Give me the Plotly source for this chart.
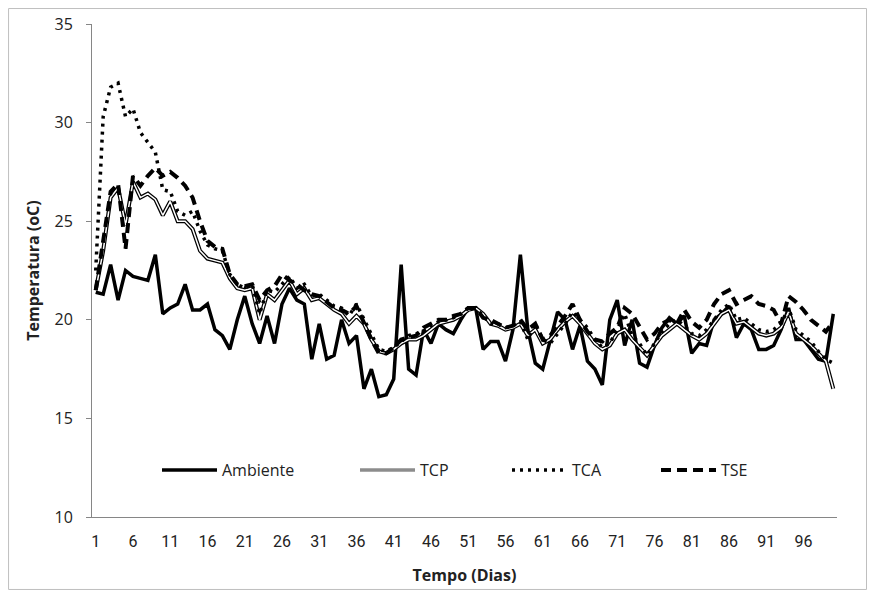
import plotly.graph_objects as go

days = list(range(1, 101))

ambiente = [21.4, 21.3, 22.8, 21.0, 22.5, 22.2, 22.1, 22.0, 23.3, 20.3,
            20.6, 20.8, 21.8, 20.5, 20.5, 20.8, 19.5, 19.2, 18.5, 20.0,
            21.2, 19.8, 18.8, 20.2, 18.8, 20.8, 21.6, 21.0, 20.8, 18.0,
            19.8, 18.0, 18.2, 20.0, 18.8, 19.2, 16.5, 17.5, 16.1, 16.2,
            17.0, 22.8, 17.5, 17.2, 19.5, 18.8, 19.8, 19.5, 19.3, 20.0,
            20.6, 20.6, 18.5, 18.9, 18.9, 17.9, 19.5, 23.3, 19.5, 17.8,
            17.5, 19.0, 20.4, 20.0, 18.5, 19.7, 17.9, 17.5, 16.7, 20.0,
            21.0, 18.7, 20.0, 17.8, 17.6, 18.7, 19.6, 20.1, 19.8, 20.2,
            18.3, 18.8, 18.7, 20.0, 20.3, 20.7, 19.1, 19.8, 19.5, 18.5,
            18.5, 18.7, 19.5, 20.6, 19.0, 19.0, 18.5, 18.0, 17.9, 20.3]

tcp = [21.5, 23.5, 26.2, 26.7, 24.8, 27.0, 26.2, 26.4, 26.1, 25.3,
       26.0, 25.0, 25.0, 24.6, 23.5, 23.1, 23.0, 22.9, 22.1, 21.6,
       21.5, 21.6, 20.0, 21.3, 21.0, 21.5, 22.0, 21.3, 21.6, 21.0,
       21.1, 20.8, 20.5, 20.3, 19.8, 20.2, 19.8, 19.0, 18.4, 18.3,
       18.5, 18.8, 19.0, 19.0, 19.2, 19.5, 19.8, 19.9, 20.0, 20.2,
       20.5, 20.6, 20.3, 19.8, 19.7, 19.5, 19.6, 19.8, 19.2, 19.5,
       18.8, 19.0, 19.5, 19.9, 20.2, 19.8, 19.3, 18.8, 18.5, 18.7,
       19.3, 19.5, 19.0, 18.6, 18.2, 18.7, 19.2, 19.5, 19.8, 19.5,
       19.2, 19.0, 19.3, 19.8, 20.3, 20.5, 19.8, 19.9, 19.6, 19.3,
       19.2, 19.3, 19.6, 20.4, 19.3, 19.0, 18.7, 18.3, 17.9, 16.5]

tca = [22.5, 30.3, 31.8, 32.0, 30.3, 30.7, 29.5, 29.0, 28.5, 26.6,
       26.5, 25.5, 25.3, 25.5, 24.5, 23.8, 23.6, 23.5, 22.3, 21.8,
       21.6, 21.8, 20.3, 21.5, 21.4, 21.8, 22.2, 21.6, 21.8, 21.2,
       21.3, 21.0, 20.7, 20.6, 20.2, 20.8, 20.0, 19.2, 18.5, 18.4,
       18.6, 18.9, 19.2, 19.3, 19.4, 19.7, 19.9, 20.0, 20.1, 20.3,
       20.6, 20.6, 20.2, 19.8, 19.8, 19.6, 19.7, 19.9, 19.0, 19.8,
       19.0, 18.8, 19.3, 19.8, 20.4, 20.0, 19.6, 19.0, 18.6, 18.8,
       19.5, 20.3, 19.2, 18.8, 18.2, 18.8, 19.4, 19.8, 20.0, 19.7,
       19.3, 19.2, 19.5, 20.0, 20.5, 20.8, 20.0, 20.1, 19.8, 19.5,
       19.4, 19.5, 19.8, 20.6, 19.5, 19.2, 18.9, 18.4, 18.0, 17.8]

tse = [21.5, 24.0, 26.5, 26.9, 23.6, 27.3, 26.8, 27.3, 27.7, 27.3,
       27.5, 27.2, 26.8, 26.2, 25.0, 24.0, 23.7, 23.6, 22.3, 21.8,
       21.7, 21.8, 21.0, 21.5, 21.7, 22.3, 22.0, 21.8, 21.5, 21.3,
       21.2, 20.9, 20.6, 20.5, 20.3, 20.7, 19.8, 19.0, 18.3, 18.3,
       18.6, 19.0, 19.1, 19.2, 19.6, 19.8, 20.0, 20.0, 20.2, 20.3,
       20.6, 20.6, 20.1, 20.0, 19.8, 19.6, 19.7, 20.0, 19.5, 19.8,
       19.0, 19.2, 19.7, 20.2, 20.8, 20.0, 19.4, 19.0, 18.9, 19.3,
       19.6, 20.6, 20.3, 19.6, 19.0, 19.3, 19.8, 20.0, 19.8, 20.5,
       19.9, 19.6, 20.0, 20.8, 21.3, 21.5, 20.8, 21.0, 21.2, 20.8,
       20.7, 20.5, 19.8, 21.2, 20.9, 20.5, 20.0, 19.7, 19.4, 19.9]

x_tickvals = list(range(1, 100, 5))
y_tickvals = [10, 15, 20, 25, 30, 35]

FONT = "Open Sans, Noto Sans, sans-serif"
NARROW = "Liberation Sans Narrow, Roboto, sans-serif"
TXT = "#222222"

fig = go.Figure()

fig.add_trace(go.Scatter(x=days, y=ambiente, mode="lines", name="Ambiente",
                         legend="legend",
                         line=dict(color="black", width=3.5)))
# TCP: double line (black outline + white core)
fig.add_trace(go.Scatter(x=days, y=tcp, mode="lines", name="TCP", legendgroup="tcp",
                         legend="legend2", showlegend=False,
                         line=dict(color="black", width=4)))
fig.add_trace(go.Scatter(x=days, y=tcp, mode="lines", name="TCP", legendgroup="tcp",
                         legend="legend2", showlegend=False,
                         line=dict(color="white", width=1.5)))
fig.add_trace(go.Scatter(x=[None], y=[None], mode="lines", name="TCP", legendgroup="tcp",
                         legend="legend2",
                         line=dict(color="#8c8c8c", width=3.5)))
fig.add_trace(go.Scatter(x=days, y=tca, mode="lines", name="TCA",
                         legend="legend3",
                         line=dict(color="black", width=3.5, dash="3px,5px")))
fig.add_trace(go.Scatter(x=days, y=tse, mode="lines", name="TSE",
                         legend="legend4",
                         line=dict(color="black", width=4, dash="10px,6px")))

PLOT_L, PLOT_W = 92, 745   # page px of plot-area left edge and its width


def leg(px):
    return dict(orientation="h", x=(px - PLOT_L) / PLOT_W, y=0.095,
                xanchor="left", yanchor="middle", itemwidth=55,
                font=dict(family=FONT, size=16, color=TXT),
                bgcolor="rgba(0,0,0,0)")


fig.update_layout(
    width=859, height=582,
    margin=dict(l=84, r=30, t=16, b=73, autoexpand=False),
    paper_bgcolor="white", plot_bgcolor="white",
    font=dict(family=FONT, size=16, color=TXT),
    showlegend=True,
    legend=leg(157), legend2=leg(355), legend3=leg(507), legend4=leg(656),
    xaxis=dict(range=[0.5, 100.5], tickmode="array", tickvals=x_tickvals,
               ticktext=[str(v) for v in x_tickvals], automargin=False,
               showgrid=False, zeroline=False, showline=True, linecolor="#868686",
               linewidth=1, ticks="", ticklabelstandoff=10,
               tickfont=dict(family=NARROW, size=16, color=TXT),
               title=dict(text="<b>Tempo (Dias)</b>",
                          font=dict(family=FONT, size=16, color=TXT), standoff=19)),
    yaxis=dict(range=[10, 35], tickmode="array", tickvals=y_tickvals,
               showgrid=False, zeroline=False, showline=True, linecolor="#868686",
               linewidth=1, ticks="outside", ticklen=5, tickcolor="#868686",
               ticklabelstandoff=10, automargin=False,
               tickfont=dict(family=FONT, size=16, color=TXT),
               title=dict(text="<b>Temperatura (oC)</b>",
                          font=dict(family=FONT, size=16, color=TXT), standoff=10)),
    shapes=[dict(type="rect", xref="paper", yref="paper",
                 x0=-0.112, x1=1.0396, y0=-0.147, y1=1.0314,
                 line=dict(color="#bfbfbf", width=1), layer="below")],
)

fig.write_html("out.html")
